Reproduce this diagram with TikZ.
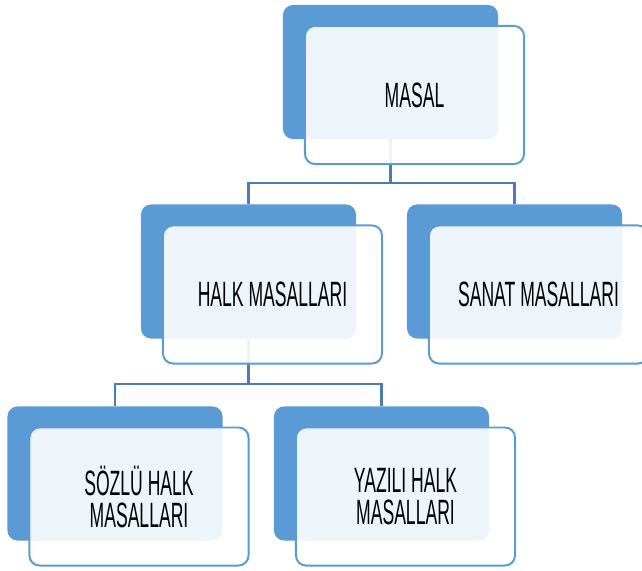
\documentclass[tikz,border=0pt]{standalone}
\usepackage{fontspec}
\setmainfont{Liberation Sans}[FakeStretch=0.5]
\usepackage{tikz}
\usetikzlibrary{positioning}
\definecolor{boxblue}{HTML}{5B9BD5}
\definecolor{linkblue}{HTML}{4A7EB3}
\tikzset{back/.style = {rectangle,rounded corners=0.25cm,fill=boxblue,
                        minimum width=5.375cm,minimum height=3.35cm,inner sep=0pt},
         front/.style = {rectangle,rounded corners=0.25cm,draw=boxblue,line width=1.4pt,
                         fill=white,fill opacity=0.9,text opacity=1,
                         minimum width=5.475cm,minimum height=3.45cm,inner sep=0pt,
                         align=center,font=\fontsize{25}{22.8}\selectfont},
         link/.style = {draw=linkblue,line width=1.9pt}}

\begin{document}
\begin{tikzpicture}[x=0.025cm, y=-0.025cm]
    \useasboundingbox (0,0) rectangle (642,570);

    \node[back] (masalB) at (390.5,72)  {};
    \node[back] (halkB)  at (248.5,271.5) {};
    \node[back] (sanatB) at (514.5,271.5) {};
    \node[back] (sozluB) at (115,473.5) {};
    \node[back] (yaziliB) at (381.5,473.5) {};

    \coordinate (top) at (390.5,183);
    \coordinate (mid) at (248.5,384);
    \draw[link] (masalB.south) -- (top) -| (halkB.north);
    \draw[link] (top) -| (sanatB.north);
    \draw[link] (halkB.south) -- (mid) -| (sozluB.north);
    \draw[link] (mid) -| (yaziliB.north);

    \node[front] (masal) at ([shift={(24,23)}]masalB) {MASAL};
    \node[front] (halk)  at ([shift={(24,23)}]halkB)  {HALK MASALLARI};
    \node[front] (sanat) at ([shift={(24,23)}]sanatB) {SANAT MASALLARI};
    \node[front] (sozlu) at ([shift={(24,23)}]sozluB) {SÖZLÜ HALK\\MASALLARI};
    \node[front] (yazili) at ([shift={(24,23)}]yaziliB) {YAZILI HALK\\MASALLARI};
\end{tikzpicture}
\end{document}
